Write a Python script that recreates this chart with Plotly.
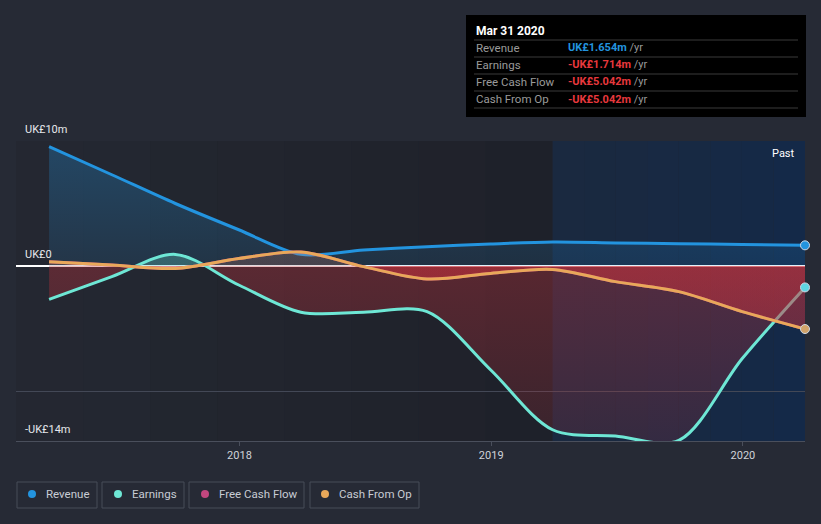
import plotly.graph_objects as go
import pandas as pd

# ---------------- data (UK£ millions) ----------------
dates = ["2017-03-31", "2017-06-30", "2017-09-30", "2017-12-31",
         "2018-03-31", "2018-06-30", "2018-09-30", "2018-12-31",
         "2019-03-31", "2019-06-30", "2019-09-30", "2019-12-31",
         "2020-03-31"]
revenue = [9.55, 7.3, 5.0, 2.9, 0.93, 1.28, 1.55, 1.76, 1.92, 1.85, 1.78, 1.72, 1.654]
earnings = [-2.67, -0.85, 0.93, -1.52, -3.7, -3.7, -3.65, -8.3, -13.1, -13.6, -13.95, -7.4, -1.714]
free_cash_flow = [0.35, 0.08, -0.19, 0.6, 1.12, -0.05, -1.04, -0.59, -0.27, -1.25, -2.05, -3.65, -5.042]
cash_from_op = [0.35, 0.08, -0.19, 0.6, 1.12, -0.05, -1.04, -0.59, -0.27, -1.25, -2.05, -3.65, -5.042]

series_names = ["Revenue", "Earnings", "Free Cash Flow", "Cash From Op"]
series_values = [revenue, earnings, free_cash_flow, cash_from_op]
series_colors = ["#2394df", "#6ee7d5", "#c2477f", "#e8a85a"]

x_ticks = ["2018-01-01", "2019-01-01", "2020-01-01"]
x_tick_labels = ["2018", "2019", "2020"]
y_range = [-14, 10]
y_grid = [-14, -10, 10]
y_labels = {10: "UK£10m", 0: "UK£0", -14: "-UK£14m"}
x_range = ["2017-02-11", "2020-03-31"]
past_start = "2019-03-31"
tooltip_date = "Mar 31 2020"

W, H = 821, 524
ML, MR, MT, MB = 16, 16, 141, 83
PW, PH = W - ML - MR, H - MT - MB


def px(x):
    return (x - ML) / PW


def py(y):
    return (H - MB - y) / PH


ytop, ybot = y_range[1], y_range[0]
p0 = (ytop - 0) / (ytop - ybot)


def rgba(hexc, a):
    h = hexc.lstrip("#")
    r, g, b = int(h[0:2], 16), int(h[2:4], 16), int(h[4:6], 16)
    return f"rgba({r},{g},{b},{a})"


red = "#c8323c"


def grad(pos_color, a_top, a_zero):
    return dict(
        type="vertical", start=ytop, stop=ybot,
        colorscale=[
            [0, rgba(pos_color, a_top)],
            [p0 - 0.001, rgba(pos_color, a_zero)],
            [p0, rgba(red, 0.34)],
            [1, rgba(red, 0.16)],
        ],
    )


fig = go.Figure()

fill_alphas = [(0.30, 0.13), (0.30, 0.26), (0.15, 0.10), (0.18, 0.12)]
for i in range(4):
    fig.add_trace(go.Scatter(
        x=dates, y=series_values[i], mode="lines", name=series_names[i],
        line=dict(color=series_colors[i], width=3, shape="spline", smoothing=0.9),
        fill="tozeroy", fillgradient=grad(series_colors[i], *fill_alphas[i]),
        hoverinfo="skip", showlegend=False,
    ))

# end markers
marker_colors = ["#2394df", "#5fd6e3", None, "#d2a36a"]
for i in [0, 1, 3]:
    fig.add_trace(go.Scatter(
        x=[dates[-1]], y=[series_values[i][-1]], mode="markers",
        marker=dict(color=marker_colors[i], size=9, line=dict(color="#cfd8e6", width=1)),
        hoverinfo="skip", showlegend=False, cliponaxis=False,
    ))

shapes = []
steps = 8
t0 = pd.Timestamp(x_range[0])
tp = pd.Timestamp(past_start)
t1 = pd.Timestamp(x_range[1])
for k in range(steps):
    a = t0 + (tp - t0) * k / steps
    b = t0 + (tp - t0) * (k + 1) / steps
    shapes.append(dict(type="rect", xref="x", yref="paper", x0=a, x1=b, y0=0, y1=1,
                       fillcolor=rgba("#14161c", 0.05 + 0.32 * k / (steps - 1)),
                       line=dict(width=0), layer="below"))
for k in range(steps):
    a = tp + (t1 - tp) * k / steps
    b = tp + (t1 - tp) * (k + 1) / steps
    shapes.append(dict(type="rect", xref="x", yref="paper", x0=a, x1=b, y0=0, y1=1,
                       fillcolor=rgba("#13294a", 0.55 + 0.35 * k / (steps - 1)),
                       line=dict(width=0), layer="below"))

# tooltip box
shapes.append(dict(type="rect", xref="paper", yref="paper",
                   x0=px(466), x1=px(806), y0=py(15), y1=py(117),
                   fillcolor="#000000", line=dict(width=0), layer="above"))
for ys in [40, 57, 74, 91, 108]:
    shapes.append(dict(type="line", xref="paper", yref="paper",
                       x0=px(474), x1=px(798), y0=py(ys), y1=py(ys),
                       line=dict(color="#3a3a3a", width=1), layer="above"))

# legend boxes
legend_boxes = [(17, 97), (102, 184), (189, 304), (310, 419)]
legend_dots = [32, 118, 205, 325]
legend_text_x = [44, 130, 217, 337]
for (a, b), cx, col in zip(legend_boxes, legend_dots, series_colors):
    shapes.append(dict(type="rect", xref="paper", yref="paper",
                       x0=px(a), x1=px(b), y0=py(482), y1=py(508),
                       line=dict(color="#474c58", width=1), fillcolor="rgba(0,0,0,0)"))
    shapes.append(dict(type="circle", xref="paper", yref="paper",
                       xsizemode="pixel", ysizemode="pixel",
                       xanchor=px(cx), yanchor=py(494),
                       x0=-4, x1=4, y0=-4, y1=4,
                       fillcolor=col, line=dict(width=0)))

annotations = []
for name, tx in zip(series_names, legend_text_x):
    annotations.append(dict(xref="paper", yref="paper", x=px(tx), y=py(494),
                            text=name, showarrow=False, xanchor="left", yanchor="middle",
                            font=dict(color="#c8ccd4", size=11.5)))

for val, lab in y_labels.items():
    ypix = H - MB - (val - ybot) / (ytop - ybot) * PH
    annotations.append(dict(xref="paper", yref="paper", x=px(23), y=py(ypix - 12),
                            text=lab, showarrow=False, xanchor="left", yanchor="middle",
                            font=dict(color="#e6e8ec", size=11)))

annotations.append(dict(xref="paper", yref="paper", x=px(797), y=py(153),
                        text="Past", showarrow=False, xanchor="right", yanchor="middle",
                        font=dict(color="#ffffff", size=11)))

annotations.append(dict(xref="paper", yref="paper", x=px(474), y=py(31),
                        text=f"<b>{tooltip_date}</b>", showarrow=False,
                        xanchor="left", yanchor="middle",
                        font=dict(color="#ffffff", size=12)))


def fmt(v):
    s = f"UK£{abs(v):.3f}m"
    return ("-" + s) if v < 0 else s


for r, (name, vals) in enumerate(zip(series_names, series_values)):
    yc = 48 + 17 * r
    v = vals[-1]
    col = "#2394df" if v >= 0 else "#e8383d"
    annotations.append(dict(xref="paper", yref="paper", x=px(474), y=py(yc),
                            text=name, showarrow=False, xanchor="left", yanchor="middle",
                            font=dict(color="#9a9a9a", size=11.5)))
    annotations.append(dict(xref="paper", yref="paper", x=px(566), y=py(yc),
                            text=f"<span style='color:{col}'><b>{fmt(v)}</b></span>"
                                 f" <span style='color:#9a9a9a'>/yr</span>",
                            showarrow=False, xanchor="left", yanchor="middle",
                            font=dict(color="#9a9a9a", size=11)))

fig.update_layout(
    width=W, height=H,
    margin=dict(l=ML, r=MR, t=MT, b=MB),
    paper_bgcolor="#262a35",
    plot_bgcolor="#252933",
    font=dict(family="Roboto, 'Open Sans', sans-serif"),
    showlegend=False,
    hovermode=False,
    shapes=shapes,
    annotations=annotations,
    xaxis=dict(
        type="date", range=x_range, tickvals=x_ticks, ticktext=x_tick_labels,
        showgrid=False, zeroline=False,
        showline=True, linecolor="#4a4f5c", linewidth=1,
        ticks="outside", ticklen=4, tickcolor="#4a4f5c",
        tickfont=dict(color="#d0d3d9", size=11),
    ),
    yaxis=dict(
        range=y_range, tickvals=y_grid, showticklabels=False,
        showgrid=True, gridcolor="#434856", gridwidth=1,
        zeroline=True, zerolinecolor="#ffffff", zerolinewidth=1.5,
        showline=False, fixedrange=True,
    ),
)

fig.write_html("out.html", config={"displayModeBar": False},
               post_script="document.body.style.margin='0';document.body.style.background='#262a35';")
